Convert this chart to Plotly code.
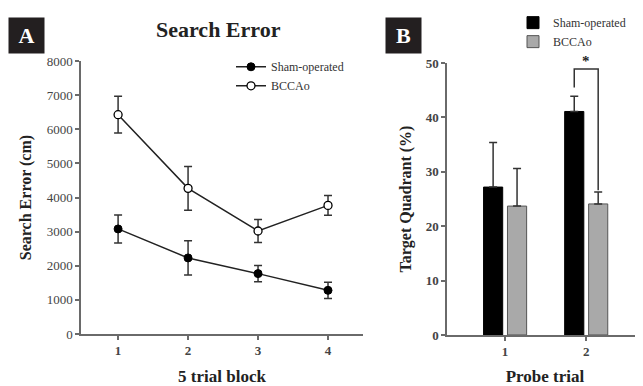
import plotly.graph_objects as go

# ---- Data ----
blocks = [1, 2, 3, 4]
sham_err_mean = [3080, 2230, 1770, 1280]
sham_err_sem = [410, 500, 240, 240]
bcca_err_mean = [6430, 4270, 3020, 3770]
bcca_err_sem = [540, 640, 340, 290]

probe = [1, 2]
sham_quad = [27.2, 41.1]
sham_quad_sem = [8.2, 2.8]
bcca_quad = [23.7, 24.1]
bcca_quad_sem = [6.9, 2.2]

SERIF = "Liberation Serif"
AX = "#6a6a6a"
TXT = "#444444"
LINE = "#222222"

fig = go.Figure()

fig.add_trace(go.Scatter(
    x=blocks, y=sham_err_mean, name="Sham-operated", mode="lines+markers",
    line=dict(color=LINE, width=1.5),
    marker=dict(symbol="circle", size=8, color="black", line=dict(color="black", width=1)),
    error_y=dict(type="data", array=sham_err_sem, color="#333333", thickness=1.5, width=4),
    xaxis="x", yaxis="y", legend="legend",
))
fig.add_trace(go.Scatter(
    x=blocks, y=bcca_err_mean, name="BCCAo", mode="lines+markers",
    line=dict(color=LINE, width=1.5),
    marker=dict(symbol="circle", size=8, color="white", line=dict(color="black", width=1.3)),
    error_y=dict(type="data", array=bcca_err_sem, color="#333333", thickness=1.5, width=4),
    xaxis="x", yaxis="y", legend="legend",
))

fig.add_trace(go.Bar(
    x=probe, y=sham_quad, name="Sham-operated",
    marker=dict(color="black", line=dict(color="black", width=1)),
    error_y=dict(type="data", array=sham_quad_sem, arrayminus=[0, 0], symmetric=False,
                 color="#333333", thickness=1.5, width=4),
    xaxis="x2", yaxis="y2", legend="legend2",
))
fig.add_trace(go.Bar(
    x=probe, y=bcca_quad, name="BCCAo",
    marker=dict(color="#a9a9a9", line=dict(color="#555555", width=1)),
    error_y=dict(type="data", array=bcca_quad_sem, arrayminus=[0, 0], symmetric=False,
                 color="#333333", thickness=1.5, width=4),
    xaxis="x2", yaxis="y2", legend="legend2",
))

# page body has an 8px margin: lay out in screen pixels and convert
OFF = 8
W, H = 643 - OFF, 386 - OFF
def px(x):
    return (x - OFF) / W
def py(y):
    return 1 - (y - OFF) / H

bargap = 0.41
slot = (1 - bargap) / 2
# significance bracket over probe trial 2
xl = probe[1] - slot / 2
xr = probe[1] + slot / 2
y_top = 48.9
y_left_bot = sham_quad[1] + sham_quad_sem[1] + 1.6
y_right_bot = bcca_quad[1] + bcca_quad_sem[1] + 0.3

axis_common = dict(showline=True, linecolor=AX, linewidth=1.5, ticks="outside",
                   tickcolor=AX, ticklen=4, tickwidth=1.5, showgrid=False, zeroline=False,
                   mirror=False, automargin=False)

fig.update_layout(
    width=W, height=H, autosize=False,
    margin=dict(l=0, r=0, t=0, b=0, pad=0),
    paper_bgcolor="white", plot_bgcolor="white",
    font=dict(family=SERIF, color=TXT),
    barmode="group", bargap=bargap, bargroupgap=0.2,
    xaxis=dict(domain=[px(81), px(363)], range=[0.47, 4.5], anchor="y",
               tickvals=blocks, tickfont=dict(family=SERIF, size=13, color=TXT, weight="bold"),
               title=dict(text="5 trial block", standoff=17,
                          font=dict(family=SERIF, size=17, color="#222222", weight="bold")),
               **axis_common),
    yaxis=dict(domain=[py(333), py(55)], range=[0, 8000], anchor="x",
               tickvals=list(range(0, 8001, 1000)),
               tickfont=dict(family=SERIF, size=13, color=TXT),
               title=dict(text="Search Error (cm)", standoff=11,
                          font=dict(family=SERIF, size=16, color="#222222", weight="bold")),
               **axis_common),
    xaxis2=dict(domain=[px(447), 1.0], range=[0.284, 2.70], anchor="y2",
                tickvals=probe, tickfont=dict(family=SERIF, size=13, color=TXT, weight="bold"),
                title=dict(text="Probe trial", standoff=17,
                           font=dict(family=SERIF, size=17, color="#222222", weight="bold")),
                **axis_common),
    yaxis2=dict(domain=[py(334), py(57)], range=[0, 50], anchor="x2",
                tickvals=list(range(0, 51, 10)),
                tickfont=dict(family=SERIF, size=13, color=TXT, weight="bold"),
                title=dict(text="Target Quadrant (%)", standoff=10,
                           font=dict(family=SERIF, size=16, color="#222222", weight="bold")),
                **axis_common),
    legend=dict(x=px(231), y=py(46), xanchor="left", yanchor="top",
                bgcolor="rgba(0,0,0,0)", itemwidth=30, tracegroupgap=0,
                font=dict(family=SERIF, size=12, color="#333333")),
    legend2=dict(x=px(513), y=py(1), xanchor="left", yanchor="top",
                 bgcolor="rgba(0,0,0,0)", itemwidth=30, tracegroupgap=0,
                 font=dict(family=SERIF, size=12, color="#333333")),
    shapes=[
        dict(type="path", xref="x2", yref="y2",
             path=f"M{xl},{y_left_bot} L{xl},{y_top} L{xr},{y_top} L{xr},{y_right_bot}",
             line=dict(color="#333333", width=1.5)),
    ],
    annotations=[
        dict(text="Search Error", xref="paper", yref="paper", x=px(218), y=py(23),
             xanchor="center", yanchor="middle", showarrow=False,
             font=dict(family=SERIF, size=22, color="#222222", weight="bold")),
        dict(text="A", xref="paper", yref="paper", x=px(26.5), y=py(28.5),
             xanchor="center", yanchor="middle", showarrow=False,
             width=33, height=33, bgcolor="#231f20", borderpad=1,
             font=dict(family=SERIF, size=22, color="white", weight="bold")),
        dict(text="B", xref="paper", yref="paper", x=px(403.5), y=py(28.5),
             xanchor="center", yanchor="middle", showarrow=False,
             width=33, height=33, bgcolor="#231f20", borderpad=1,
             font=dict(family=SERIF, size=22, color="white", weight="bold")),
        dict(text="*", xref="x2", yref="paper", x=probe[1], y=py(55),
             xanchor="center", yanchor="middle", showarrow=False,
             font=dict(family=SERIF, size=15, color="#222222", weight="bold")),
    ],
)

fig.write_html("out.html")
